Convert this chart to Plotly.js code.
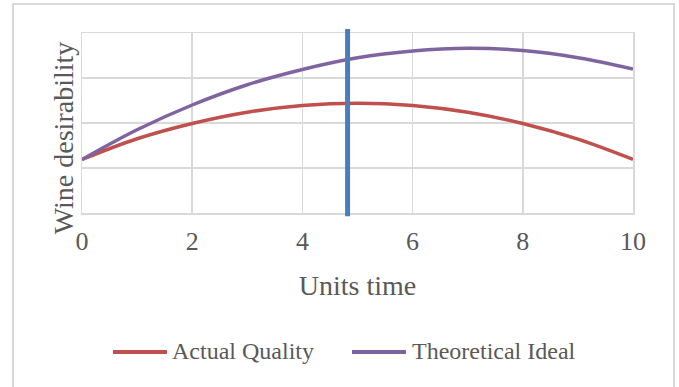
<!DOCTYPE html>
<html>
<head>
<meta charset="utf-8">
<script src="https://cdn.plot.ly/plotly-3.0.1.min.js"></script>
<style>
  html, body { margin: 0; padding: 0; width: 679px; height: 387px; overflow: hidden; background: #fff; }
  #frame { position: absolute; left: 12px; top: 3px; width: 663px; height: 420px;
           border: 2px solid #d9d9d9; box-sizing: border-box; pointer-events: none; }
  #chart { position: absolute; left: 0; top: 0; width: 679px; height: 387px; }
</style>
</head>
<body>
<div id="chart"></div>
<div id="frame"></div>
<script>
// Time in units
const timeUnits = [0, 1, 2, 3, 4, 5, 6, 7, 8, 9, 10];
// Actual Quality
const actualQuality = [1.19, 1.65, 1.99, 2.24, 2.39, 2.44, 2.39, 2.24, 1.99, 1.64, 1.19];
// Theoretical Ideal
const theoreticalIdeal = [1.19, 1.85, 2.4, 2.85, 3.19, 3.45, 3.6, 3.66, 3.61, 3.45, 3.2];
// Vertical marker line (x position, y extent in data units)
const markerX = [4.82, 4.82];
const markerY = [-0.07, 4.09];
const xTicks = [0, 2, 4, 6, 8, 10];
const yRange = [0, 4];
const seriesNames = ["Actual Quality", "Theoretical Ideal"];
const seriesColors = ["#c0504d", "#8064a2"];

const serif = "'Liberation Serif', 'DejaVu Serif', serif";
const grey = "#595959";

const traces = [
  { x: timeUnits, y: actualQuality, name: seriesNames[0], type: "scatter", mode: "lines",
    line: { color: seriesColors[0], width: 3.5, shape: "spline" } },
  { x: timeUnits, y: theoreticalIdeal, name: seriesNames[1], type: "scatter", mode: "lines",
    line: { color: seriesColors[1], width: 3.5, shape: "spline" } }
];

const toPaperY = v => (v - yRange[0]) / (yRange[1] - yRange[0]);

// custom legend geometry (layout only)
const legY = -0.772;
const legItems = [
  { x0: (113 - 82) / 551, x1: (167 - 82) / 551, tx: (172 - 82) / 551 },
  { x0: (352 - 82) / 551, x1: (406 - 82) / 551, tx: (412 - 82) / 551 }
];

const shapes = [
  { type: "line", xref: "x", yref: "paper", x0: markerX[0], x1: markerX[1],
    y0: toPaperY(markerY[0]), y1: toPaperY(markerY[1]), layer: "above",
    line: { color: "#4a7ebb", width: 5 } }
];
const annotations = [
  { text: "Wine desirability", xref: "paper", yref: "paper", x: -0.033, y: 0.42,
    xanchor: "center", yanchor: "middle", textangle: -90, showarrow: false,
    font: { family: serif, size: 28, color: grey } }
];
legItems.forEach((it, i) => {
  shapes.push({ type: "line", xref: "paper", yref: "paper", x0: it.x0, x1: it.x1, y0: legY, y1: legY,
    line: { color: seriesColors[i], width: 4 } });
  annotations.push({ text: seriesNames[i], xref: "paper", yref: "paper", x: it.tx, y: legY + 0.005,
    xanchor: "left", yanchor: "middle", showarrow: false, xshift: -2,
    font: { family: serif, size: 24, color: grey } });
});

const layout = {
  width: 679, height: 387,
  margin: { l: 82, r: 46, t: 33, b: 174 },
  paper_bgcolor: "#fff", plot_bgcolor: "#fff",
  font: { family: serif, color: grey },
  showlegend: false,
  xaxis: {
    range: [0, 10], tickvals: xTicks, ticktext: xTicks.map(String),
    showgrid: true, gridcolor: "#d9d9d9", gridwidth: 1.5,
    showline: true, linecolor: "#d9d9d9", linewidth: 1.5, mirror: true,
    zeroline: false, ticks: "", ticklabelstandoff: 4,
    tickfont: { family: serif, size: 26, color: grey },
    title: { text: "Units time", font: { family: serif, size: 28, color: grey }, standoff: 20 }
  },
  yaxis: {
    range: yRange, dtick: 1, showticklabels: false,
    showgrid: true, gridcolor: "#d9d9d9", gridwidth: 1.5,
    showline: true, linecolor: "#d9d9d9", linewidth: 1.5, mirror: true,
    zeroline: false, ticks: ""
  },
  shapes: shapes,
  annotations: annotations
};

Plotly.newPlot("chart", traces, layout, { displayModeBar: false, staticPlot: true });
</script>
</body>
</html>
